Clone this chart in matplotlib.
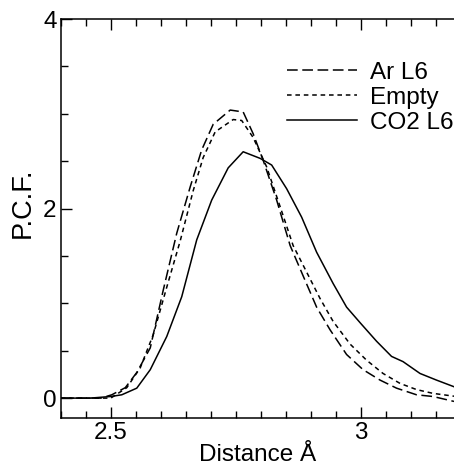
import matplotlib
matplotlib.use("Agg")
import matplotlib.pyplot as plt
from matplotlib.ticker import MultipleLocator

plt.rcParams['font.family'] = ['Liberation Sans', 'DejaVu Sans']

# distance (Angstrom) and pair correlation values
dist_ar = [2.40, 2.48, 2.502, 2.529, 2.552, 2.579, 2.605, 2.632, 2.659, 2.682, 2.705,
           2.739, 2.765, 2.785, 2.805, 2.832, 2.859, 2.885, 2.912, 2.939, 2.972,
           3.005, 3.039, 3.072, 3.112, 3.145, 3.187]
pcf_ar = [0.0, 0.0, 0.035, 0.11, 0.27, 0.53, 1.14, 1.74, 2.23, 2.62, 2.89,
          3.04, 3.02, 2.79, 2.51, 2.09, 1.61, 1.29, 0.96, 0.72, 0.46,
          0.30, 0.19, 0.105, 0.035, 0.017, -0.035]

dist_empty = [2.40, 2.50, 2.532, 2.559, 2.585, 2.612, 2.639, 2.665, 2.685, 2.709,
              2.745, 2.762, 2.785, 2.812, 2.839, 2.865, 2.892, 2.919, 2.945, 2.979,
              3.012, 3.045, 3.079, 3.112, 3.145, 3.187]
pcf_empty = [0.0, 0.0, 0.11, 0.32, 0.67, 1.17, 1.66, 2.19, 2.54, 2.81,
             2.94, 2.93, 2.75, 2.44, 2.02, 1.61, 1.33, 1.05, 0.81, 0.57,
             0.40, 0.26, 0.155, 0.09, 0.05, 0.02]

dist_co2 = [2.40, 2.459, 2.50, 2.522, 2.552, 2.579, 2.612, 2.642, 2.672, 2.702,
            2.735, 2.765, 2.799, 2.822, 2.852, 2.882, 2.912, 2.945, 2.972, 3.0,
            3.032, 3.062, 3.085, 3.119, 3.152, 3.187]
pcf_co2 = [0.0, 0.0, 0.017, 0.035, 0.105, 0.30, 0.65, 1.07, 1.67, 2.09,
           2.43, 2.60, 2.53, 2.46, 2.21, 1.91, 1.54, 1.21, 0.96, 0.79,
           0.60, 0.44, 0.385, 0.26, 0.19, 0.12]

fig = plt.figure(figsize=(4.54, 4.66), dpi=100)
ax = fig.add_axes([0.134, 0.103, 0.866, 0.856])

ax.plot(dist_ar, pcf_ar, color="black", lw=1.1, linestyle=(0, (7, 3)), label="Ar L6")
ax.plot(dist_empty, pcf_empty, color="black", lw=1.1, linestyle=(0, (3, 2.5)), label="Empty")
ax.plot(dist_co2, pcf_co2, color="black", lw=1.1, label="CO2 L6")

ax.set_xlim(2.4, 3.187)
ax.set_ylim(-0.21, 4.0)
ax.xaxis.set_major_locator(MultipleLocator(0.5))
ax.xaxis.set_minor_locator(MultipleLocator(0.05))
ax.yaxis.set_major_locator(MultipleLocator(2))
ax.yaxis.set_minor_locator(MultipleLocator(0.5))
ax.set_xticks([2.5, 3.0])
ax.set_xticklabels(["2.5", "3"])
ax.set_yticks([0, 2, 4])
ax.set_yticklabels(["0", "2", "4"])
ax.tick_params(which="both", direction="in", top=True, right=False, labelsize=17.5, width=1)
ax.tick_params(which="major", length=8, pad=3)
ax.tick_params(which="minor", length=5)
ax.spines["right"].set_visible(False)
for s in ["left", "bottom", "top"]:
    ax.spines[s].set_linewidth(1.1)

ax.set_xlabel("Distance Å", fontsize=17.5, labelpad=0)
ax.set_ylabel("P.C.F.", fontsize=19.5)
ax.yaxis.set_label_coords(-0.065, 0.54)

ax.legend(loc="upper left", bbox_to_anchor=(0.575, 0.893), frameon=False, fontsize=17.5,
          handlelength=2.9, handletextpad=0.53, labelspacing=0.12, borderpad=0,
          borderaxespad=0)

fig.savefig("out.png", dpi=100)
